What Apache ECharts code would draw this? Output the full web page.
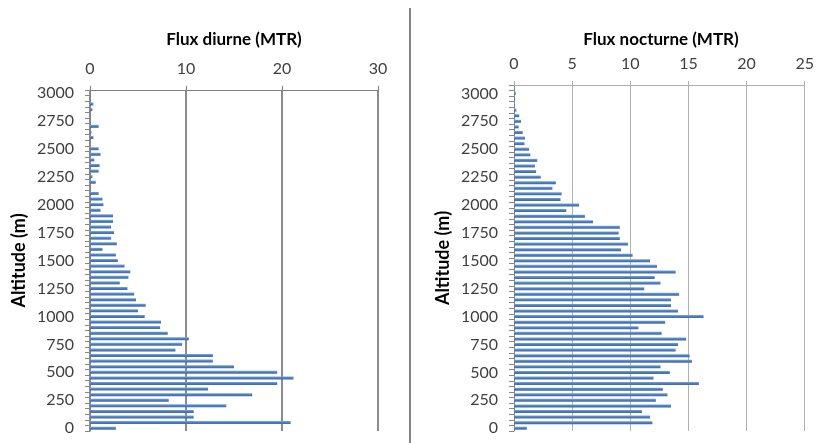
<!DOCTYPE html>
<html><head><meta charset="utf-8">
<script src="https://cdn.jsdelivr.net/npm/echarts@6/dist/echarts.min.js"></script>
<style>html,body{margin:0;padding:0;background:#fff}#c{width:817px;height:443px}</style>
</head><body><div id="c"></div>
<script>
// Altitude categories (m), 50 m bins
const altitudes = [0,50,100,150,200,250,300,350,400,450,500,550,600,650,700,750,800,850,900,950,
  1000,1050,1100,1150,1200,1250,1300,1350,1400,1450,1500,1550,1600,1650,1700,1750,1800,1850,1900,1950,
  2000,2050,2100,2150,2200,2250,2300,2350,2400,2450,2500,2550,2600,2650,2700,2750,2800,2850,2900,2950,3000];
const altitudesNight = [0,50,100,150,200,250,300,350,400,450,500,550,600,650,700,750,800,850,900,950,
  1000,1050,1100,1150,1200,1250,1300,1350,1400,1450,1500,1550,1600,1650,1700,1750,1800,1850,1900,1950,
  2000,2050,2100,2150,2200,2250,2300,2350,2400,2450,2500,2550,2600,2650,2700,2750,2800,2850,2900,2950,3000,3050];

// Flux diurne (MTR)
const fluxDiurne = [2.7,20.9,10.8,10.8,14.2,8.2,16.9,12.3,19.5,21.2,19.5,15.0,12.8,12.8,8.9,9.6,10.3,8.1,7.3,7.4,
  5.7,5.0,5.8,4.8,4.6,3.9,3.1,4.0,4.2,3.6,2.9,2.7,1.3,2.8,2.2,2.5,2.2,2.4,2.4,1.1,
  1.4,1.3,0.9,0,0.6,0.25,0.9,1.0,0.45,1.1,0.9,0,0.35,0.15,0.9,0,0,0.25,0.35,0,0];

// Flux nocturne (MTR)
const fluxNocturne = [1.1,11.9,11.7,11.0,13.5,12.2,13.2,12.8,15.9,12.0,13.4,12.6,15.3,15.1,13.9,14.1,14.8,12.7,10.7,13.0,
  16.3,14.1,13.5,13.5,14.2,11.2,12.6,12.1,13.9,12.3,11.7,10.2,9.2,9.8,9.1,9.0,9.1,6.8,6.1,4.5,
  5.6,4.0,4.1,3.3,3.6,2.3,1.9,1.8,2.0,1.4,1.3,0.9,0.95,0.75,0.4,0.6,0.45,0.2,0.05,0.1,0.15,null];

const diurneAxis = {min:0, max:30, interval:10};
const nocturneAxis = {min:0, max:25, interval:5};

const FONT = 'Lato';
const barColor = new echarts.graphic.LinearGradient(0,0,0,1,[
  {offset:0,color:'#7fa6d8'},{offset:0.5,color:'#4a7bbd'},{offset:1,color:'#3d6cab'}]);

function xAx(idx, cfg, gridCol, gw){
  return {gridIndex:idx, type:'value', position:'top', min:cfg.min, max:cfg.max, interval:cfg.interval,
    axisLine:{show:true, lineStyle:{color:gridCol, width:1}},
    axisTick:{show:true, length:4, lineStyle:{color:gridCol}},
    splitLine:{show:true, lineStyle:{color:gridCol, width:gw}},
    axisLabel:{color:'#404040', fontSize:16, fontFamily:FONT, margin:13}};
}
function yAx(idx, data){
  return {gridIndex:idx, type:'category', data:data,
    axisLine:{show:true, lineStyle:{color:'#868686'}},
    axisTick:{show:true, interval:0, length:5, lineStyle:{color:'#868686'}},
    axisLabel:{interval:4, color:'#404040', fontSize:16, fontFamily:FONT, margin:16},
    name:'Altitude (m)', nameLocation:'middle', nameGap:62,
    nameTextStyle:{fontWeight:'bold', fontSize:18, fontFamily:FONT, color:'#000'}};
}

const chart = echarts.init(document.getElementById('c'));
chart.setOption({
  animation:false,
  backgroundColor:'#fff',
  grid:[{left:90, top:90, width:288, height:341},{left:514, top:85, width:292, height:346}],
  xAxis:[xAx(0, diurneAxis, '#7f7f7f', 1.8), xAx(1, nocturneAxis, '#b0b0b0', 1)],
  yAxis:[yAx(0, altitudes), yAx(1, altitudesNight)],
  series:[
    {type:'bar', xAxisIndex:0, yAxisIndex:0, data:fluxDiurne, barWidth:3, itemStyle:{color:barColor}},
    {type:'bar', xAxisIndex:1, yAxisIndex:1, data:fluxNocturne, barWidth:3, itemStyle:{color:barColor}}
  ],
  graphic:[
    {type:'line', shape:{x1:410,y1:8,x2:410,y2:443}, style:{stroke:'#5a5a5a', lineWidth:1.5}},
    {type:'text', x:234, y:40, style:{text:'Flux diurne (MTR)', align:'center', verticalAlign:'middle',
      font:'bold 17px Lato', fill:'#000'}},
    {type:'text', x:661, y:40, style:{text:'Flux nocturne (MTR)', align:'center', verticalAlign:'middle',
      font:'bold 17px Lato', fill:'#000'}}
  ]
});
</script></body></html>
